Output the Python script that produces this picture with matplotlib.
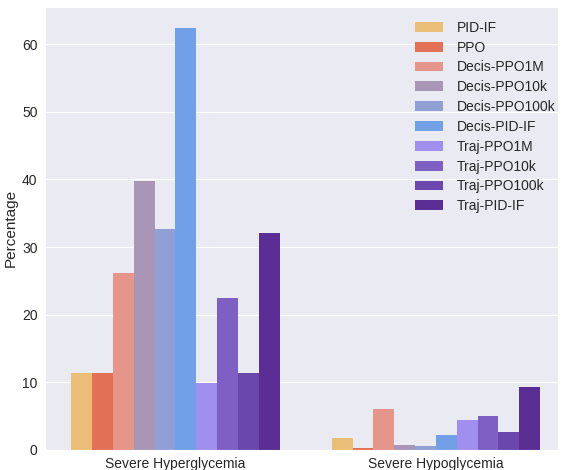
import matplotlib
matplotlib.use("Agg")
import matplotlib.pyplot as plt
import numpy as np
import seaborn as sns

categories = ["Severe Hyperglycemia", "Severe Hypoglycemia"]
methods = ["PID-IF", "PPO", "Decis-PPO1M", "Decis-PPO10k", "Decis-PPO100k",
           "Decis-PID-IF", "Traj-PPO1M", "Traj-PPO10k", "Traj-PPO100k", "Traj-PID-IF"]
hyper = [11.3, 11.3, 26.1, 39.7, 32.6, 62.4, 9.9, 22.5, 11.3, 32.1]
hypo = [1.8, 0.25, 6.1, 0.75, 0.6, 2.2, 4.35, 4.95, 2.6, 9.35]
colors = ["#ebbe78", "#e27055", "#e5958a", "#a996b6", "#909fd4",
          "#72a0e8", "#a08fee", "#7e60c4", "#6a47ac", "#5b2e96"]


def main():
    sns.set_style("darkgrid")
    plt.rcParams['font.family'] = ['Liberation Sans', 'DejaVu Sans']
    fig, ax = plt.subplots(figsize=(5.64, 4.70), dpi=100)

    n = len(methods)
    width = 0.8 / n
    x = np.arange(len(categories))
    for i, m in enumerate(methods):
        vals = [hyper[i], hypo[i]]
        ax.bar(x - 0.4 + width * (i + 0.5), vals, width, color=colors[i],
               label=m, linewidth=0)

    ax.set_xticks(x)
    ax.set_xticklabels(categories, fontsize=10)
    ax.tick_params(axis='x', pad=1.5)
    ax.tick_params(axis='y', labelsize=10, pad=2)
    ax.grid(False, axis='x')
    ax.set_ylabel("Percentage", fontsize=11, labelpad=3)
    ax.set_xlim(-0.5, 1.47)
    ax.set_ylim(0, 65.5)
    ax.legend(loc="upper right", bbox_to_anchor=(1.01, 0.988), frameon=False,
              fontsize=10, labelspacing=0.42, handletextpad=1.0, borderaxespad=0.2)
    fig.subplots_adjust(left=0.08, right=0.99, top=0.985, bottom=0.043)
    plt.savefig("out.png", dpi=100)


if __name__ == '__main__':
    main()
